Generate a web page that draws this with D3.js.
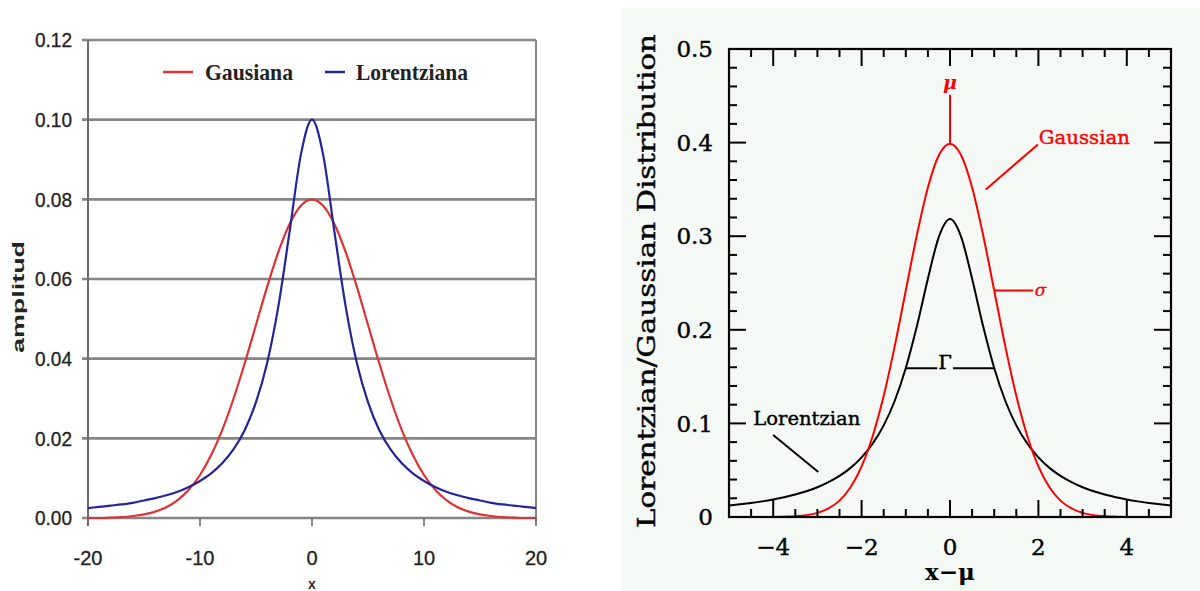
<!DOCTYPE html>
<html><head><meta charset="utf-8">
<script src="https://cdn.jsdelivr.net/npm/d3@7"></script>
<style>html,body{margin:0;padding:0;background:#fff;}svg{display:block;}</style>
</head><body>
<svg id="c" width="1200" height="591"></svg>
<script>
// ---------- Left chart data ----------
const leftX = [-20,-19,-18,-17,-16,-15,-14,-13,-12,-11,-10,-9,-8,-7,-6,-5,-4,-3,-2,-1,0,1,2,3,4,5,6,7,8,9,10,11,12,13,14,15,16,17,18,19,20];
const gausiana = [0.0000,0.0000,0.0001,0.0002,0.0005,0.0009,0.0016,0.0027,0.0045,0.0071,0.0108,0.0158,0.0222,0.0300,0.0389,0.0485,0.0581,0.0668,0.0738,0.0784,0.0800,0.0784,0.0738,0.0668,0.0581,0.0485,0.0389,0.0300,0.0222,0.0158,0.0108,0.0071,0.0045,0.0027,0.0016,0.0009,0.0005,0.0002,0.0001,0.0000,0.0000];
const lorentziana = [0.0025,0.0028,0.0031,0.0034,0.0038,0.0044,0.0050,0.0057,0.0066,0.0078,0.0093,0.0112,0.0138,0.0173,0.0221,0.0291,0.0390,0.0532,0.0719,0.0911,0.1000,0.0911,0.0719,0.0532,0.0390,0.0291,0.0221,0.0173,0.0138,0.0112,0.0093,0.0078,0.0066,0.0057,0.0050,0.0044,0.0038,0.0034,0.0031,0.0028,0.0025];
const leftYTicks = [0, 0.02, 0.04, 0.06, 0.08, 0.10, 0.12];
const leftYLabels = ["0.00","0.02","0.04","0.06","0.08","0.10","0.12"];
const leftXTicks = [-20, -10, 0, 10, 20];
const leftLegend = ["Gausiana", "Lorentziana"];

// ---------- Right chart data ----------
const rightX = [-5,-4.75,-4.5,-4.25,-4,-3.75,-3.5,-3.25,-3,-2.75,-2.5,-2.25,-2,-1.75,-1.5,-1.25,-1,-0.75,-0.5,-0.25,0,0.25,0.5,0.75,1,1.25,1.5,1.75,2,2.25,2.5,2.75,3,3.25,3.5,3.75,4,4.25,4.5,4.75,5];
const gaussian = [0,0,0,0,0.0001,0.0004,0.0009,0.0020,0.0044,0.0091,0.0175,0.0317,0.0540,0.0863,0.1295,0.1826,0.2420,0.3011,0.3521,0.3867,0.3989,0.3867,0.3521,0.3011,0.2420,0.1826,0.1295,0.0863,0.0540,0.0317,0.0175,0.0091,0.0044,0.0020,0.0009,0.0004,0.0001,0,0,0,0];
const lorentzian = [0.0122,0.0135,0.0150,0.0167,0.0187,0.0211,0.0240,0.0275,0.0318,0.0372,0.0439,0.0525,0.0637,0.0784,0.0979,0.1242,0.1592,0.2037,0.2546,0.2996,0.3183,0.2996,0.2546,0.2037,0.1592,0.1242,0.0979,0.0784,0.0637,0.0525,0.0439,0.0372,0.0318,0.0275,0.0240,0.0211,0.0187,0.0167,0.0150,0.0135,0.0122];
const rightYTicks = [0, 0.1, 0.2, 0.3, 0.4, 0.5];
const rightYLabels = ["0","0.1","0.2","0.3","0.4","0.5"];
const rightXTicks = [-4, -2, 0, 2, 4];
const rightXLabels = ["\u22124","\u22122","0","2","4"];

const svg = d3.select("#c");

// =============== LEFT CHART ===============
const lx = d3.scaleLinear().domain([-20, 20]).range([88, 536]);
const ly = d3.scaleLinear().domain([0, 0.12]).range([518, 40]);
const L = svg.append("g");
const gridCol = "#858585";

L.append("g").selectAll("line").data(leftYTicks).join("line")
  .attr("x1", lx(-20) - 6).attr("x2", lx(20))
  .attr("y1", d => ly(d)).attr("y2", d => ly(d))
  .attr("stroke", gridCol).attr("stroke-width", 2.6);
L.append("line").attr("x1", lx(20)).attr("x2", lx(20)).attr("y1", ly(0.12)).attr("y2", ly(0) + 4)
  .attr("stroke", gridCol).attr("stroke-width", 2);
L.append("line").attr("x1", lx(-20)).attr("x2", lx(-20)).attr("y1", ly(0.12)).attr("y2", ly(0) + 8)
  .attr("stroke", "#6a6a6a").attr("stroke-width", 2);
L.append("g").selectAll("line").data(leftXTicks).join("line")
  .attr("x1", d => lx(d)).attr("x2", d => lx(d))
  .attr("y1", ly(0)).attr("y2", ly(0) + 8)
  .attr("stroke", "#6a6a6a").attr("stroke-width", 1.6);

L.append("g").selectAll("text").data(leftYTicks).join("text")
  .attr("x", 72).attr("y", d => ly(d)).attr("dy", "0.36em")
  .attr("text-anchor", "end")
  .attr("font-family", "Liberation Sans, Arial, sans-serif").attr("font-size", 20)
  .attr("fill", "#222").attr("stroke", "#222").attr("stroke-width", 0.3)
  .attr("textLength", 37).attr("lengthAdjust", "spacingAndGlyphs")
  .text((d, i) => leftYLabels[i]);
L.append("g").selectAll("text").data(leftXTicks).join("text")
  .attr("x", d => lx(d)).attr("y", 558).attr("dy", "0.36em")
  .attr("text-anchor", "middle")
  .attr("font-family", "Liberation Sans, Arial, sans-serif").attr("font-size", 20)
  .attr("fill", "#222").attr("stroke", "#222").attr("stroke-width", 0.3)
  .text(d => d);
L.append("text").attr("x", lx(0)).attr("y", 589).attr("text-anchor", "middle")
  .attr("font-family", "Liberation Sans, Arial, sans-serif").attr("font-size", 14)
  .attr("font-weight", "bold").attr("fill", "#2a2a2a").text("x");
L.append("text").attr("transform", "translate(24,297) rotate(-90)")
  .attr("text-anchor", "middle")
  .attr("font-family", "Liberation Sans, Arial, sans-serif").attr("font-size", 16)
  .attr("font-weight", "bold").attr("fill", "#222")
  .attr("textLength", 112).attr("lengthAdjust", "spacingAndGlyphs")
  .text("amplitud");

const lline = d3.line().x(d => lx(d[0])).y(d => ly(d[1])).curve(d3.curveMonotoneX);
L.append("path").datum(leftX.map((x, i) => [x, gausiana[i]]))
  .attr("d", lline).attr("fill", "none").attr("stroke", "#dc3434").attr("stroke-width", 2.2);
L.append("path").datum(leftX.map((x, i) => [x, lorentziana[i]]))
  .attr("d", lline).attr("fill", "none").attr("stroke", "#24249a").attr("stroke-width", 2.2);

const legCols = ["#dc3434", "#24249a"];
const legLine = [[163, 193], [325, 345]];
const legText = [205, 356];
leftLegend.forEach((name, i) => {
  L.append("line").attr("x1", legLine[i][0]).attr("x2", legLine[i][1]).attr("y1", 72).attr("y2", 72)
    .attr("stroke", legCols[i]).attr("stroke-width", 2.5);
  L.append("text").attr("x", legText[i]).attr("y", 72).attr("dy", "0.33em")
    .attr("font-family", "Liberation Serif, Times New Roman, serif").attr("font-size", 23)
    .attr("font-weight", "bold").attr("fill", "#222")
    .attr("textLength", i === 0 ? 88 : 112).attr("lengthAdjust", "spacingAndGlyphs")
    .text(name);
});

// =============== RIGHT CHART ===============
const R = svg.append("g");
R.append("rect").attr("x", 622).attr("y", 8).attr("width", 578).attr("height", 583).attr("fill", "#f5f9f6");
const rx = d3.scaleLinear().domain([-5, 5]).range([729, 1171]);
const ry = d3.scaleLinear().domain([0, 0.5]).range([517, 49]);
const fontR = "DejaVu Serif, serif";

const rline = d3.line().x(d => rx(d[0])).y(d => ry(d[1])).curve(d3.curveMonotoneX);
R.append("path").datum(rightX.map((x, i) => [x, lorentzian[i]]))
  .attr("d", rline).attr("fill", "none").attr("stroke", "#000").attr("stroke-width", 2);
R.append("path").datum(rightX.map((x, i) => [x, gaussian[i]]))
  .attr("d", rline).attr("fill", "none").attr("stroke", "#ff0000").attr("stroke-width", 2);

R.append("rect").attr("x", rx(-5)).attr("y", ry(0.5)).attr("width", rx(5) - rx(-5)).attr("height", ry(0) - ry(0.5))
  .attr("fill", "none").attr("stroke", "#000").attr("stroke-width", 2.2);

const xMinor = d3.range(-5, 5.001, 0.5);
const yMinor = d3.range(0, 0.5001, 0.02);
const isMajX = v => Math.abs(v / 2 - Math.round(v / 2)) < 1e-6;
const isMajY = v => Math.abs(v * 10 - Math.round(v * 10)) < 1e-6;
const tg = R.append("g").attr("stroke", "#000").attr("stroke-width", 2);
xMinor.forEach(v => {
  const len = isMajX(v) ? 17 : 8;
  tg.append("line").attr("x1", rx(v)).attr("x2", rx(v)).attr("y1", ry(0)).attr("y2", ry(0) - len);
  tg.append("line").attr("x1", rx(v)).attr("x2", rx(v)).attr("y1", ry(0.5)).attr("y2", ry(0.5) + len);
});
yMinor.forEach(v => {
  const len = isMajY(v) ? 17 : 8;
  tg.append("line").attr("x1", rx(-5)).attr("x2", rx(-5) + len).attr("y1", ry(v)).attr("y2", ry(v));
  tg.append("line").attr("x1", rx(5)).attr("x2", rx(5) - len).attr("y1", ry(v)).attr("y2", ry(v));
});

R.append("g").selectAll("text").data(rightYTicks).join("text")
  .attr("x", 713).attr("y", d => ry(d)).attr("dy", "0.36em").attr("text-anchor", "end")
  .attr("font-family", fontR).attr("font-size", 23).attr("fill", "#000")
  .attr("stroke", "#000").attr("stroke-width", 0.4)
  .text((d, i) => rightYLabels[i]);
R.append("g").selectAll("text").data(rightXTicks).join("text")
  .attr("x", d => rx(d)).attr("y", 547).attr("dy", "0.36em").attr("text-anchor", "middle")
  .attr("font-family", fontR).attr("font-size", 23).attr("fill", "#000")
  .attr("stroke", "#000").attr("stroke-width", 0.4)
  .text((d, i) => rightXLabels[i]);
R.append("text").attr("x", rx(0)).attr("y", 572).attr("dy", "0.36em").attr("text-anchor", "middle")
  .attr("font-family", fontR).attr("font-size", 23).attr("font-weight", "bold").attr("fill", "#000")
  .text("x\u2212\u03bc");
R.append("text").attr("transform", "translate(646,281) rotate(-90)").attr("dy", "0.36em")
  .attr("text-anchor", "middle")
  .attr("font-family", fontR).attr("font-size", 24).attr("fill", "#000")
  .attr("stroke", "#000").attr("stroke-width", 0.4)
  .attr("textLength", 494).attr("lengthAdjust", "spacingAndGlyphs")
  .text("Lorentzian/Gaussian Distribution");

const red = "#ff0000";
R.append("line").attr("x1", rx(0)).attr("x2", rx(0)).attr("y1", ry(0.3989)).attr("y2", ry(0.451))
  .attr("stroke", red).attr("stroke-width", 2);
R.append("text").attr("x", rx(0)).attr("y", ry(0.463)).attr("dy", "0.3em").attr("text-anchor", "middle")
  .attr("font-family", fontR).attr("font-size", 19).attr("font-weight", "bold").attr("font-style", "italic")
  .attr("fill", red).text("\u03bc");
R.append("line").attr("x1", rx(0.81)).attr("y1", ry(0.350)).attr("x2", rx(1.99)).attr("y2", ry(0.398))
  .attr("stroke", red).attr("stroke-width", 2);
R.append("text").attr("x", rx(2.01)).attr("y", ry(0.406)).attr("dy", "0.36em")
  .attr("font-family", fontR).attr("font-size", 19).attr("fill", red)
  .attr("stroke", red).attr("stroke-width", 0.4)
  .attr("textLength", 91).attr("lengthAdjust", "spacingAndGlyphs").text("Gaussian");
R.append("line").attr("x1", rx(1)).attr("x2", rx(1.88)).attr("y1", ry(0.242)).attr("y2", ry(0.242))
  .attr("stroke", red).attr("stroke-width", 2);
R.append("text").attr("x", rx(1.92)).attr("y", ry(0.242)).attr("dy", "0.3em")
  .attr("font-family", fontR).attr("font-size", 17).attr("font-style", "italic").attr("fill", red)
  .attr("stroke", red).attr("stroke-width", 0.3).text("\u03c3");
R.append("line").attr("x1", rx(-1)).attr("x2", rx(-0.29)).attr("y1", ry(0.159)).attr("y2", ry(0.159))
  .attr("stroke", "#000").attr("stroke-width", 2);
R.append("line").attr("x1", rx(0.07)).attr("x2", rx(1)).attr("y1", ry(0.159)).attr("y2", ry(0.159))
  .attr("stroke", "#000").attr("stroke-width", 2);
R.append("text").attr("x", rx(-0.11)).attr("y", ry(0.159) + 1).attr("text-anchor", "middle")
  .attr("font-family", fontR).attr("font-size", 19).attr("fill", "#000")
  .attr("stroke", "#000").attr("stroke-width", 0.6).text("\u0393");
R.append("line").attr("x1", rx(-4.0)).attr("y1", ry(0.0876)).attr("x2", rx(-2.98)).attr("y2", ry(0.048))
  .attr("stroke", "#000").attr("stroke-width", 2);
R.append("text").attr("x", rx(-4.45)).attr("y", ry(0.106)).attr("dy", "0.36em")
  .attr("font-family", fontR).attr("font-size", 19).attr("fill", "#000")
  .attr("stroke", "#000").attr("stroke-width", 0.4)
  .attr("textLength", 107).attr("lengthAdjust", "spacingAndGlyphs").text("Lorentzian");
</script>
</body></html>
